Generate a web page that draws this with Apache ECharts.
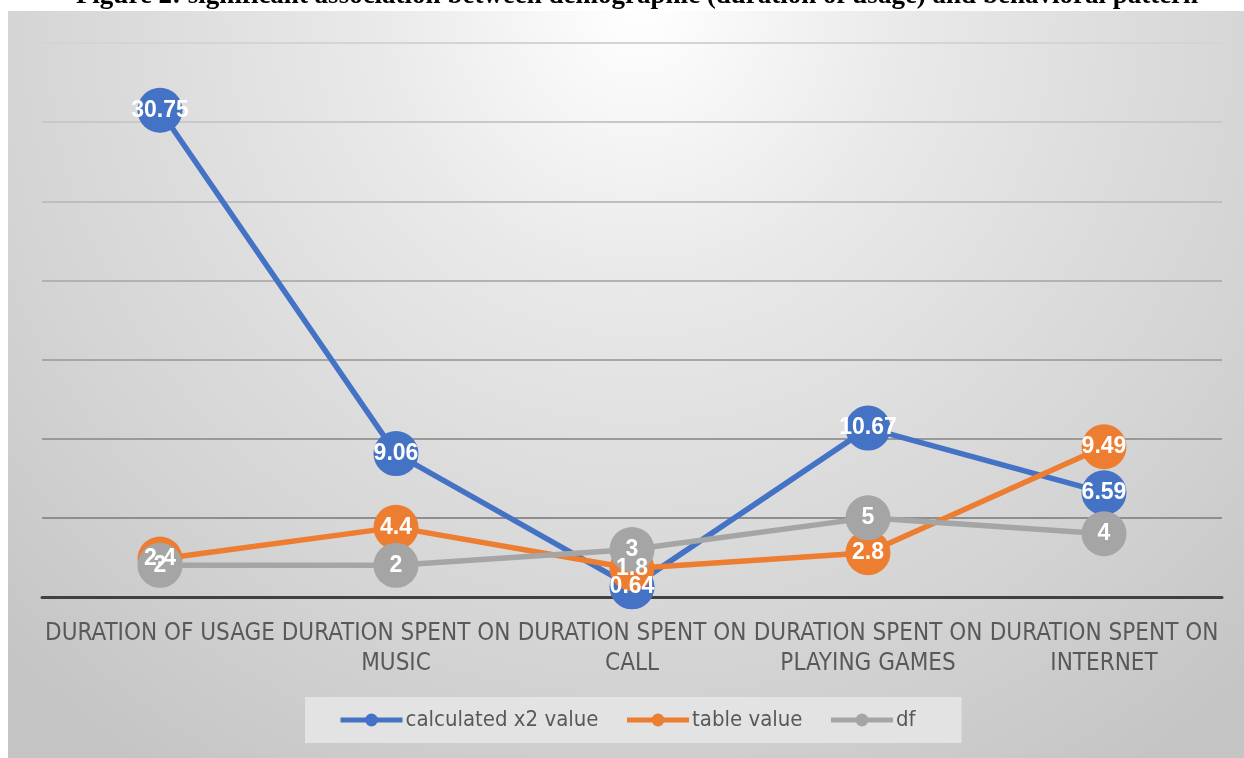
<!DOCTYPE html>
<html>
<head>
<meta charset="utf-8">
<script src="https://cdn.jsdelivr.net/npm/echarts@6/dist/echarts.min.js"></script>
<style>
html,body{margin:0;padding:0;background:#fff;}
#chart{width:1244px;height:758px;}
</style>
</head>
<body>
<div id="chart"></div>
<script>
const categories = [
  "DURATION OF USAGE",
  "DURATION SPENT ON\nMUSIC",
  "DURATION SPENT ON\nCALL",
  "DURATION SPENT ON\nPLAYING GAMES",
  "DURATION SPENT ON\nINTERNET"
];
const calculatedX2 = [30.75, 9.06, 0.64, 10.67, 6.59];
const tableValue = [2.4, 4.4, 1.8, 2.8, 9.49];
const dfValue = [2, 2, 3, 5, 4];
const seriesNames = ["calculated x2 value", "table value", "df"];
const titleText = "Figure 2: significant association between demographic (duration of usage) and behavioral pattern";

// --- pick a condensed font if one is installed, otherwise size down ---
const cv = document.createElement('canvas').getContext('2d');
function tw(font, txt) { cv.font = font; return cv.measureText(txt).width; }
function installed(fam) {
  const s = 'DURATION SPENT ON abcxyz 0123';
  return tw('40px "' + fam + '", monospace', s) !== tw('40px monospace', s) ||
         tw('40px "' + fam + '", serif', s) !== tw('40px serif', s);
}
const candidates = ['Liberation Sans Narrow', 'DejaVu Sans Condensed', 'Roboto Condensed', 'Arial Narrow', 'Liberation Sans'];
let narrowFam = 'Liberation Sans';
for (const c of candidates) { if (installed(c)) { narrowFam = c; break; } }
const narrow = '"' + narrowFam + '", "Liberation Sans", Arial, sans-serif';
const axisW = tw('25px ' + narrow, 'DURATION OF USAGE');
const axisFont = Math.min(26, Math.round(25 * 231 / axisW * 2) / 2);
const legW = tw('23px ' + narrow, 'calculated x2 value');
const legFont = Math.min(24, Math.round(23 * 195 / legW * 2) / 2);

const chart = echarts.init(document.getElementById('chart'));
const colors = ['#4472C4', '#ED7D31', '#A5A5A5'];

function mk(name, data, color) {
  return {
    name: name,
    type: 'line',
    data: data,
    symbol: 'circle',
    symbolSize: 45,
    itemStyle: { color: color },
    lineStyle: { color: color, width: 5.5 },
    label: {
      show: true,
      position: 'inside',
      color: '#ffffff',
      fontFamily: '"Liberation Sans", Arial, sans-serif',
      fontWeight: 'bold',
      fontSize: 23
    },
    emphasis: { disabled: true },
    animation: false
  };
}

chart.setOption({
  animation: false,
  graphic: [
    {
      type: 'rect',
      z: -10,
      silent: true,
      shape: { x: 8, y: 11, width: 1236, height: 747 },
      style: {
        fill: new echarts.graphic.RadialGradient(640, 10, 900, [
          { offset: 0, color: '#ffffff' },
          { offset: 0.3, color: '#e9e9e9' },
          { offset: 0.55, color: '#dcdcdc' },
          { offset: 0.72, color: '#d4d4d4' },
          { offset: 1, color: '#c5c5c5' }
        ], true)
      }
    },
    {
      type: 'text',
      z: 10,
      silent: true,
      style: {
        text: titleText,
        x: 637,
        y: 10,
        align: 'center',
        verticalAlign: 'bottom',
        fill: '#000000',
        font: 'bold 27px "Liberation Serif", "Times New Roman", serif'
      }
    }
  ],
  grid: { left: 42, right: 22, top: 43, bottom: 161 },
  legend: {
    data: seriesNames,
    left: 305,
    top: 697,
    padding: [12, 46, 12, 33],
    itemGap: 26,
    itemWidth: 62,
    itemHeight: 16,
    lineStyle: { width: 5 },
    backgroundColor: '#e3e3e3',
    textStyle: { color: '#595959', fontSize: legFont, fontFamily: narrow, padding: [0, 0, 0, -2] }
  },
  xAxis: {
    type: 'category',
    data: categories,
    boundaryGap: true,
    axisLine: { show: true, lineStyle: { color: '#404040', width: 3 } },
    axisTick: { show: false },
    axisLabel: {
      interval: 0,
      color: '#595959',
      fontSize: axisFont,
      lineHeight: 30,
      margin: 22,
      fontFamily: narrow
    },
    splitLine: { show: false }
  },
  yAxis: {
    type: 'value',
    min: 0,
    max: 35,
    interval: 5,
    axisLabel: { show: false },
    axisLine: { show: false },
    axisTick: { show: false },
    splitLine: {
      show: true,
      lineStyle: {
        width: 2,
        color: ['#404040', '#8e8e8e', '#999999', '#a6a6a6', '#b2b2b2', '#bdbdbd', '#c8c8c8', '#d4d4d4']
      }
    }
  },
  series: [
    mk(seriesNames[0], calculatedX2, colors[0]),
    mk(seriesNames[1], tableValue, colors[1]),
    mk(seriesNames[2], dfValue, colors[2])
  ]
});
</script>
</body>
</html>
